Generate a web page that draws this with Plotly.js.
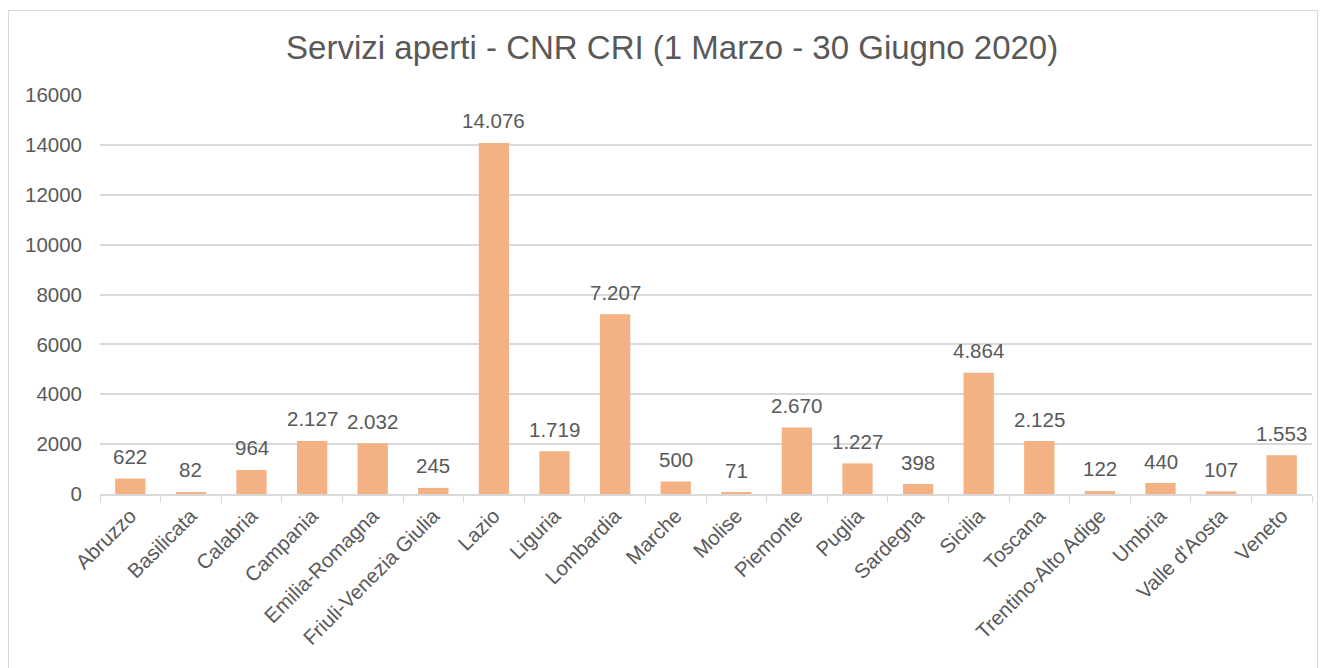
<!DOCTYPE html>
<html>
<head>
<meta charset="utf-8">
<script src="https://cdn.plot.ly/plotly-3.0.1.min.js"></script>
<style>
  html, body { margin: 0; padding: 0; background: #fff; overflow: hidden; }
  #frame { position: absolute; left: 8px; top: 10px; width: 1310px; height: 670px; border: 1px solid #d9d9d9; box-sizing: border-box; }
  #chart { position: absolute; left: 0; top: 0; width: 1308px; height: 668px; }
</style>
</head>
<body>
<div id="frame"><div id="chart"></div></div>
<script>
const regions = ["Abruzzo","Basilicata","Calabria","Campania","Emilia-Romagna","Friuli-Venezia Giulia","Lazio","Liguria","Lombardia","Marche","Molise","Piemonte","Puglia","Sardegna","Sicilia","Toscana","Trentino-Alto Adige","Umbria","Valle d'Aosta","Veneto"];
const servizi = [622,82,964,2127,2032,245,14076,1719,7207,500,71,2670,1227,398,4864,2125,122,440,107,1553];
const yTicks = [0,2000,4000,6000,8000,10000,12000,14000,16000];

function fmtIt(v) { return String(v).replace(/\B(?=(\d{3})+(?!\d))/g, "."); }

const font = "Liberation Sans, Arial, sans-serif";
const grey = "#595959";

const trace = {
  type: "bar",
  x: regions,
  y: servizi,
  marker: { color: "#F4B183" },
  hoverinfo: "x+y"
};

const annotations = regions.map((r, i) => ({
  x: r, y: servizi[i], xref: "x", yref: "y",
  text: fmtIt(servizi[i]), showarrow: false,
  yanchor: "middle", yshift: 22,
  font: { family: font, size: 20.5, color: grey }
}));

const layout = {
  width: 1308, height: 668,
  margin: { l: 91, r: 5, t: 84, b: 185 },
  paper_bgcolor: "#fff", plot_bgcolor: "#fff",
  title: {
    text: "Servizi aperti - CNR CRI (1 Marzo - 30 Giugno 2020)",
    font: { family: font, size: 33, color: grey },
    x: 0.507, xanchor: "center", y: 0.945, yanchor: "middle", xref: "container"
  },
  bargap: 0.5,
  showlegend: false,
  xaxis: {
    type: "category",
    tickangle: -45,
    tickfont: { family: font, size: 20.5, color: grey },
    showline: true, linecolor: "#d9d9d9", linewidth: 1.5,
    ticks: "outside", tickson: "boundaries", ticklen: 7, tickcolor: "#d9d9d9",
    showgrid: false, zeroline: false
  },
  yaxis: {
    range: [0, 16000],
    tickvals: yTicks,
    ticktext: yTicks.map(String),
    tickfont: { family: font, size: 20.5, color: grey },
    showgrid: true, gridcolor: "#d9d9d9", gridwidth: 1.5,
    zeroline: false, showline: false, ticks: "",
    ticklabelstandoff: 17
  },
  annotations: annotations
};

Plotly.newPlot("chart", [trace], layout, { displayModeBar: false, staticPlot: false });
</script>
</body>
</html>
